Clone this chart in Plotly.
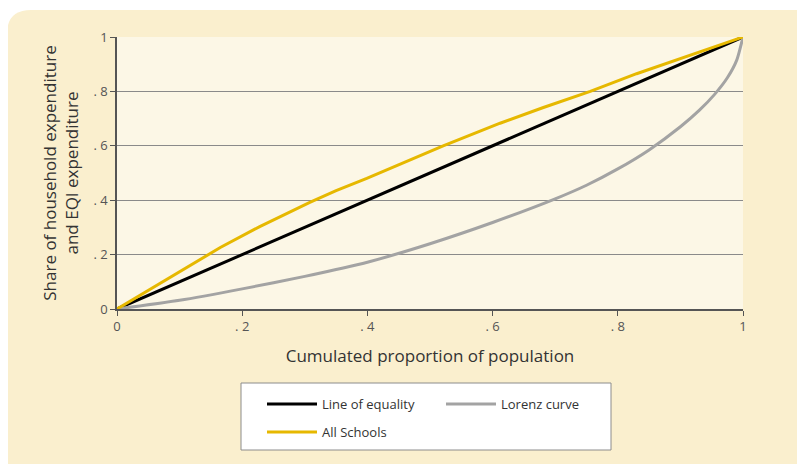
import plotly.graph_objects as go

# ---- data ----
equality_x = [0, 1]
equality_y = [0, 1]

lorenz_x = [0, 0.1, 0.2, 0.3, 0.4, 0.5, 0.6, 0.7, 0.75, 0.8, 0.85, 0.9, 0.93, 0.955, 0.975, 0.99, 1.0]
lorenz_y = [0, 0.032, 0.074, 0.12, 0.172, 0.24, 0.318, 0.405, 0.455, 0.515, 0.585, 0.67, 0.73, 0.79, 0.85, 0.915, 1.0]

schools_x = [0, 0.035, 0.069, 0.12, 0.165, 0.228, 0.27, 0.308, 0.35, 0.399, 0.46, 0.521, 0.57, 0.612, 0.68, 0.756, 0.83, 0.915, 0.96, 1.0]
schools_y = [0, 0.048, 0.095, 0.165, 0.226, 0.303, 0.35, 0.392, 0.435, 0.48, 0.54, 0.6, 0.645, 0.683, 0.74, 0.8, 0.865, 0.934, 0.968, 1.0]

tick_vals = [0, 0.2, 0.4, 0.6, 0.8, 1]
tick_text = ["0", ". 2", ". 4", ". 6", ". 8", "1"]

# ---- layout geometry (page pixels; the page body has an 8px margin) ----
OFF = 8
W, H = 805 - OFF, 464 - OFF
PL, PR, PT, PB = 117, 743, 37, 309          # plot area in page pixels
L, T = PL - OFF, PT - OFF
R = W - (PR - OFF)
B = H - (PB - OFF)
PW, PH = PR - PL, PB - PT

def px(x):
    return (x - PL) / PW

def py(y):
    return (PB - y) / PH

FONT = "Open Sans, Noto Sans, sans-serif"

fig = go.Figure()
fig.add_trace(go.Scatter(x=equality_x, y=equality_y, mode="lines", name="Line of equality",
                         line=dict(color="#000000", width=3), legend="legend"))
fig.add_trace(go.Scatter(x=lorenz_x, y=lorenz_y, mode="lines", name="Lorenz curve",
                         line=dict(color="#a3a3a3", width=3, shape="spline", smoothing=0.6), legend="legend"))
fig.add_trace(go.Scatter(x=schools_x, y=schools_y, mode="lines", name="All Schools",
                         line=dict(color="#e6b800", width=3), legend="legend2"))

# outer rounded panel
x0, x1, y0, y1, r = 7, 840, 10, 490, 24
path = (f"M {px(x0)},{py(y0 + r)} "
        f"Q {px(x0)},{py(y0)} {px(x0 + r)},{py(y0)} "
        f"L {px(x1)},{py(y0)} L {px(x1)},{py(y1)} "
        f"L {px(x0 + r)},{py(y1)} "
        f"Q {px(x0)},{py(y1)} {px(x0)},{py(y1 - r)} Z")

shapes = [
    dict(type="path", xref="paper", yref="paper", path=path,
         fillcolor="#faefce", line=dict(width=0), layer="below"),
    dict(type="rect", xref="paper", yref="paper", x0=0, x1=1, y0=0, y1=1,
         fillcolor="#fcf7e6", line=dict(width=0), layer="below"),
    dict(type="rect", xref="paper", yref="paper", x0=px(241), x1=px(611), y0=py(450), y1=py(383),
         fillcolor="#ffffff", line=dict(color="#8c8c8c", width=1), layer="below"),
]

fig.update_layout(
    width=W, height=H,
    margin=dict(l=L, r=R, t=T, b=B),
    paper_bgcolor="#ffffff",
    plot_bgcolor="#fcf7e6",
    font=dict(family=FONT, color="#444444", size=13),
    shapes=shapes,
    xaxis=dict(range=[0, 1], tickvals=tick_vals, ticktext=tick_text, showgrid=False, zeroline=False,
               showline=True, linecolor="#555555", linewidth=1.5, ticks="outside", ticklen=5,
               tickcolor="#555555", tickfont=dict(size=13, color="#555555"),
               title=dict(text="Cumulated proportion of population", font=dict(size=17, color="#333333"),
                          standoff=16)),
    yaxis=dict(range=[0, 1], tickvals=tick_vals, ticktext=tick_text, showgrid=True, gridcolor="#8a8a8a",
               gridwidth=1, zeroline=False, showline=True, linecolor="#555555", linewidth=1.5,
               ticks="outside", ticklen=5, tickcolor="#555555", tickfont=dict(size=13, color="#555555"),
               title=dict(text="Share of household expenditure<br>and EQI expenditure",
                          font=dict(size=17, color="#333333"), standoff=10)),
    legend=dict(orientation="h", x=px(262), y=py(404), xanchor="left", yanchor="middle",
                bgcolor="rgba(0,0,0,0)", entrywidth=114, font=dict(size=13, color="#333333"),
                itemwidth=50),
    legend2=dict(orientation="h", x=px(262), y=py(432), xanchor="left", yanchor="middle",
                 bgcolor="rgba(0,0,0,0)", font=dict(size=13, color="#333333"), itemwidth=50),
    showlegend=True,
)

fig.write_html("out.html")
